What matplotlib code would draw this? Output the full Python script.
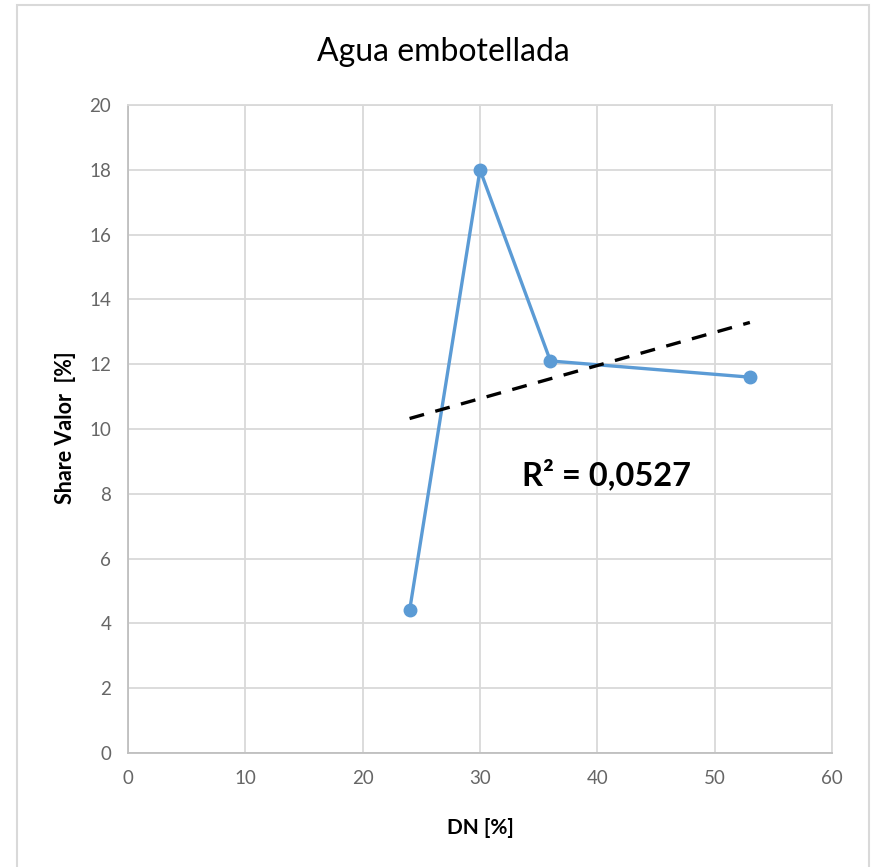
import numpy as np
import matplotlib
matplotlib.use('Agg')
import matplotlib.pyplot as plt
from matplotlib.patches import Rectangle

# Data
dn = [24, 30, 36, 53]
share = [4.4, 18.0, 12.1, 11.6]
x_ticks = [0, 10, 20, 30, 40, 50, 60]
y_ticks = [0, 2, 4, 6, 8, 10, 12, 14, 16, 18, 20]
r2_label = "R² = 0,0527"

plt.rcParams['font.family'] = ['Lato', 'DejaVu Sans']

W, H = 873, 867
fig = plt.figure(figsize=(W / 100, H / 100), dpi=100)
ax = fig.add_axes([128 / W, 1 - 753 / H, (832 - 128) / W, (753 - 105) / H])

# outer chart border (its bottom edge runs past the image)
fig.patches.append(Rectangle((17 / W, -0.05), (869 - 17) / W, 1.05 - 5 / H,
                             transform=fig.transFigure, fill=False,
                             edgecolor='#D9D9D9', lw=1.5))

ax.plot(dn, share, color='#5B9BD5', lw=2.4, marker='o', ms=9, zorder=3)

# linear trendline fitted on the data
slope, icpt = np.polyfit(dn, share, 1)
xt = np.array([min(dn), max(dn)])
ax.plot(xt, slope * xt + icpt, color='black', lw=2.4, ls=(0, (4.5, 3.5)), zorder=4)

ax.text(606 / W, 1 - 474 / H, r2_label, transform=fig.transFigure,
        ha='center', va='center', fontsize=23.5, fontweight='bold')

ax.set_xlim(0, 60)
ax.set_ylim(0, 20)
ax.set_xticks(x_ticks)
ax.set_yticks(y_ticks)
ax.grid(True, color='#D9D9D9', lw=1.3)
ax.set_axisbelow(True)
for s in ax.spines.values():
    s.set_color('#D9D9D9')
    s.set_linewidth(1.3)
ax.spines['left'].set_color('#BFBFBF')
ax.spines['bottom'].set_color('#BFBFBF')
ax.tick_params(length=0, labelsize=13.5, labelcolor='#666666', pad=12)

fig.text(443 / W, 1 - 52 / H, "Agua embotellada", ha='center', va='center', fontsize=23)
fig.text(480 / W, 1 - 828 / H, "DN [%]", ha='center', va='center',
         fontsize=15, fontweight='bold')
fig.text(65 / W, 1 - 428 / H, "Share Valor  [%]", ha='center', va='center',
         rotation=90, fontsize=15.5, fontweight='bold')

fig.savefig('out.png', dpi=100)
